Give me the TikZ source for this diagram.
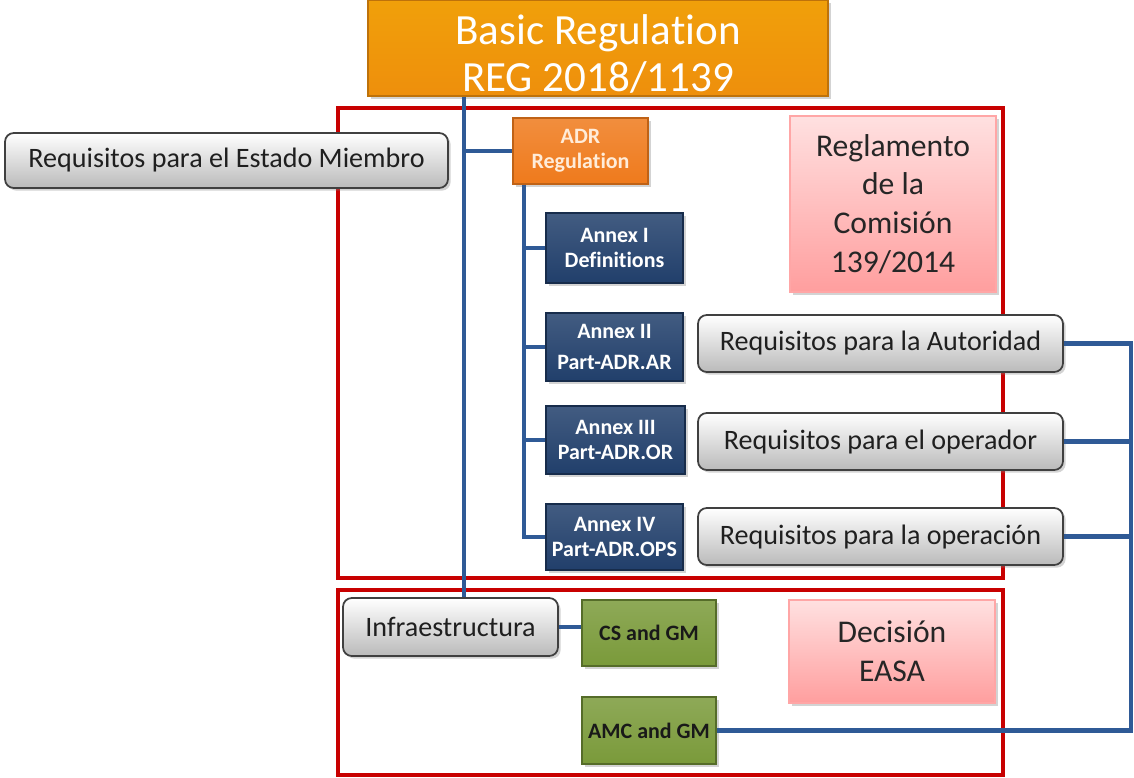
\documentclass[tikz,border=0pt]{standalone}
\usepackage{fontspec}
\setmainfont{Carlito}[Ligatures=NoCommon]
\usetikzlibrary{positioning,calc,shadows}

\definecolor{basicorange}{HTML}{EE8F0C}
\definecolor{adrorange}{HTML}{EF7A1C}
\definecolor{annexnavy}{HTML}{213F6B}
\definecolor{linkblue}{HTML}{2F5A96}
\definecolor{framered}{HTML}{C80000}
\definecolor{boxgreen}{HTML}{7A9A3A}

\tikzset{
  boxshadow/.style={drop shadow={shadow xshift=1.5pt,shadow yshift=-1.5pt,opacity=0.35}},
  graybox/.style={draw=black!75,line width=1pt,rounded corners=5pt,top color=white,bottom color=black!27,
    boxshadow,align=center,font=\fontsize{16}{19}\selectfont,text=black!88,inner sep=0pt},
  navybox/.style={draw=annexnavy!70!black,line width=0.6pt,top color=annexnavy!85!white,bottom color=annexnavy,
    boxshadow,align=center,text=white,font=\fontsize{12.5}{14}\selectfont\bfseries,inner sep=0pt},
  greenbox/.style={draw=boxgreen!70!black,line width=0.6pt,top color=boxgreen!85!white,bottom color=boxgreen,
    boxshadow,align=center,text=black!90,font=\fontsize{12.5}{14}\selectfont\bfseries,inner sep=0pt},
  pinkbox/.style={draw=red!35,line width=0.6pt,top color=red!12,bottom color=red!38,
    boxshadow,align=center,text=black!85,font=\fontsize{18}{22}\selectfont,inner sep=0pt},
  link/.style={draw=linkblue,line width=2.3pt},
  frame/.style={draw=framered,line width=2.8pt},
}

\begin{document}
\begin{tikzpicture}[x=0.02cm,y=-0.02cm]
  \useasboundingbox (0,0) rectangle (1134,778);
  %%% red frames
  \draw[frame] (338,108) rectangle (1003,578);
  \draw[frame] (338,590) rectangle (1003,775);

  %%% spines
  \coordinate (spine) at (464,0);
  \coordinate (adrspine) at (524,0);
  \coordinate (bus) at (1131,0);

  %%% top
  \node[draw=basicorange!80!black,line width=0.6pt,top color=basicorange!85!yellow,bottom color=basicorange,boxshadow,
    minimum width=460*0.02cm,minimum height=96*0.02cm,align=center,text=white,
    font=\fontsize{24.5}{27}\selectfont,inner sep=0pt] (basic) at (598,48) {\rule{0pt}{24pt}Basic Regulation\\REG 2018/1139};
  \node[graybox,minimum width=443*0.02cm,minimum height=55*0.02cm] (estado) at (226.5,160.5) {Requisitos para el Estado Miembro};
  \node[draw=adrorange!80!black,line width=0.6pt,top color=adrorange!85!white,bottom color=adrorange,boxshadow,
    minimum width=135*0.02cm,minimum height=66*0.02cm,align=center,text=orange!15,
    font=\fontsize{12.5}{14}\selectfont\bfseries,inner sep=0pt] (adr) at (580.5,151) {ADR\\Regulation};

  %%% annexes
  \node[navybox,minimum width=137*0.02cm,minimum height=70*0.02cm] (annex1) at (614.5,248) {Annex I\\Definitions};
  \node[navybox,minimum width=137*0.02cm,minimum height=68*0.02cm] (annex2) at (614.5,347) {Annex II\\[4pt]Part-ADR.AR};
  \node[navybox,minimum width=139*0.02cm,minimum height=68*0.02cm] (annex3) at (615.5,440) {Annex III\\Part-ADR.OR};
  \node[navybox,minimum width=137*0.02cm,minimum height=66*0.02cm] (annex4) at (614.5,537) {Annex IV\\Part-ADR.OPS};

  \node[pinkbox,minimum width=206*0.02cm,minimum height=176*0.02cm] (reglamento) at (893,204) {Reglamento\\de la\\Comisión\\139/2014};

  \node[graybox,minimum width=365*0.02cm,minimum height=57*0.02cm] (autoridad) at (880.5,343.5) {Requisitos para la Autoridad};
  \node[graybox,minimum width=365*0.02cm,minimum height=57*0.02cm] (operador) at (880.5,441.5) {Requisitos para el operador};
  \node[graybox,minimum width=365*0.02cm,minimum height=57*0.02cm] (operacion) at (880.5,536.5) {Requisitos para la operación};

  %%% bottom
  \node[graybox,minimum width=215*0.02cm,minimum height=58*0.02cm] (infra) at (450.5,627) {Infraestructura};
  \node[greenbox,minimum width=134*0.02cm,minimum height=66*0.02cm] (csgm) at (649,633) {CS and GM};
  \node[greenbox,minimum width=134*0.02cm,minimum height=67*0.02cm] (amcgm) at (649,730.5) {AMC and GM};
  \node[pinkbox,minimum width=206*0.02cm,minimum height=103*0.02cm] (decision) at (892,651.5) {Decisión\\EASA};

  %%% connectors
  \draw[link] (basic.south -| spine) -- (infra.north -| spine);
  \draw[link] (adr.west -| spine) -- (adr.west);
  \draw[link] (adr.south -| adrspine) -- (annex4.west -| adrspine) -- (annex4.west);
  \draw[link] (annex1.west -| adrspine) -- (annex1.west);
  \draw[link] (annex2.west -| adrspine) -- (annex2.west);
  \draw[link] (annex3.west -| adrspine) -- (annex3.west);
  \draw[link] (infra.east) -- (infra.east -| csgm.west);
  \draw[link] (autoridad.east) -- (autoridad.east -| bus) -- (amcgm.east -| bus) -- (amcgm.east);
  \draw[link] (operador.east) -- (operador.east -| bus);
  \draw[link] (operacion.east) -- (operacion.east -| bus);
\end{tikzpicture}
\end{document}
